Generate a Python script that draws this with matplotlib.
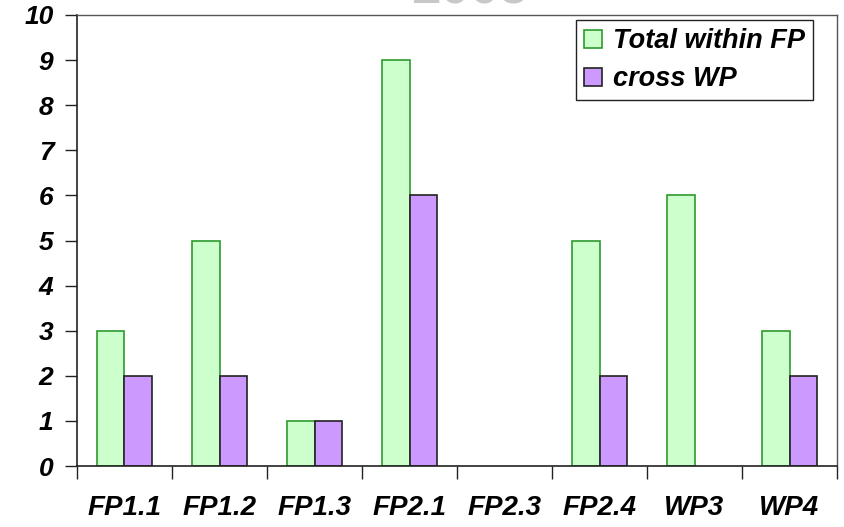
import matplotlib
matplotlib.use("Agg")
import matplotlib.pyplot as plt
import numpy as np

# data
categories = ["FP1.1", "FP1.2", "FP1.3", "FP2.1", "FP2.3", "FP2.4", "WP3", "WP4"]
total_within_fp = [3, 5, 1, 9, 0, 5, 6, 3]
cross_wp = [2, 2, 1, 6, 0, 2, 0, 2]
yticks = list(range(0, 11))

plt.rcParams["font.family"] = ["Liberation Sans", "DejaVu Sans"]

fig = plt.figure(figsize=(8.45, 5.27), dpi=100)
ax = fig.add_axes([77 / 845, 1 - 466 / 527, 760 / 845, 451 / 527])

x = np.arange(len(categories))
w = 0.29
# zero values are left out so no flat outline is drawn on the axis
tot = [v if v else np.nan for v in total_within_fp]
crs = [v if v else np.nan for v in cross_wp]
ax.bar(x - w / 2, tot, w, color="#CCFFCC", edgecolor="#2E9A2E",
       linewidth=1.2, label="Total within FP")
ax.bar(x + w / 2, crs, w, color="#CC99FF", edgecolor="#222222",
       linewidth=1.2, label="cross WP")

ax.set_xlim(-0.5, len(categories) - 0.5)
ax.set_ylim(0, 10)
ax.set_yticks(yticks)
ax.set_yticklabels([str(v) for v in yticks], fontsize=19, fontweight="bold",
                   fontstyle="italic")

# category boundaries carry the tick marks, labels sit in the middle
ax.set_xticks(np.arange(-0.5, len(categories), 1.0))
ax.set_xticklabels([])
ax.set_xticks(x, minor=True)
ax.set_xticklabels(categories, minor=True, fontsize=20, fontweight="bold",
                   fontstyle="italic")
ax.tick_params(axis="x", which="major", direction="out", length=9, width=1,
               color="#222222")
ax.tick_params(axis="x", which="minor", length=0, pad=21)
ax.tick_params(axis="y", direction="out", length=9, width=1, color="#222222",
               pad=8)

for side in ["left", "bottom"]:
    ax.spines[side].set_color("#222222")
    ax.spines[side].set_linewidth(1.2)
for side in ["top", "right"]:
    ax.spines[side].set_color("#555555")
    ax.spines[side].set_linewidth(1.0)

leg = ax.legend(loc="upper right", bbox_to_anchor=(813 / 845, 1 - 20 / 527),
                bbox_transform=fig.transFigure, fancybox=False, framealpha=1,
                edgecolor="#222222", handlelength=0.65, handleheight=0.65,
                handletextpad=0.4, borderpad=0.3, labelspacing=0.45,
                borderaxespad=0,
                prop={"size": 19.5, "weight": "bold", "style": "italic"})
leg.get_frame().set_linewidth(1.0)

# title mostly cut off at the top edge of the picture
fig.text(470 / 845, 1 - 4 / 527, "2005", ha="center", va="baseline",
         fontsize=38, fontweight="bold", color="#C8C8C8")

fig.savefig("out.png", dpi=100)
